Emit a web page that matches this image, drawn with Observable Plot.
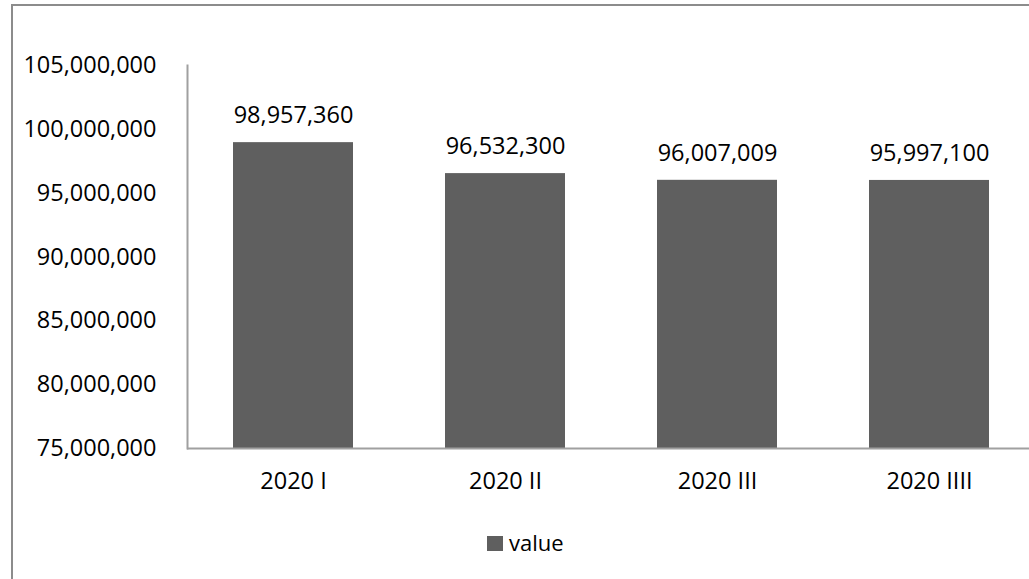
<!DOCTYPE html>
<html>
<head>
<meta charset="utf-8">
<script src="https://cdn.jsdelivr.net/npm/d3@7"></script>
<script src="https://cdn.jsdelivr.net/npm/@observablehq/plot@0.6"></script>
<style>
  html, body { margin: 0; padding: 0; background: #fff; overflow: hidden; }
  #wrap { position: relative; width: 1029px; height: 579px; overflow: hidden; font-family: "Open Sans", sans-serif; }
  #border { position: absolute; left: 11px; top: 4px; width: 1100px; height: 700px; border: 2px solid #8c8c8c; box-sizing: border-box; }
  #chart { position: absolute; left: 0; top: 0; }
  #legend { position: absolute; left: 487px; top: 527px; display: flex; align-items: center; font-size: 22px; color: #000; }
  #legend .sw { width: 16px; height: 15px; background: #5f5f5f; margin-right: 6px; margin-top: 3px; }
</style>
</head>
<body>
<div id="wrap">
  <div id="border"></div>
  <div id="chart"></div>
  <div id="legend"><span class="sw"></span><span>value</span></div>
</div>
<script>
const categories = ["2020 I", "2020 II", "2020 III", "2020 IIII"];
const values = [98957360, 96532300, 96007009, 95997100];
const yTicks = [75000000, 80000000, 85000000, 90000000, 95000000, 100000000, 105000000];
const seriesName = "value";

const data = categories.map((c, i) => ({category: c, value: values[i]}));
const fmt = d3.format(",");
const fs = 23.5;

const chart = Plot.plot({
  width: 1029,
  height: 579,
  marginLeft: 187,
  marginTop: 65,
  marginBottom: 131,
  marginRight: 0,
  style: {fontFamily: "Open Sans, sans-serif", fontSize: fs + "px", color: "#000", background: "transparent", overflow: "visible"},
  x: {domain: categories, range: [187, 1035], paddingInner: 0.434, paddingOuter: 0.217, label: null},
  y: {domain: [75000000, 105000000], label: null},
  marks: [
    Plot.barY(data, {x: "category", y1: 75000000, y2: "value", fill: "#5f5f5f"}),
    Plot.text(data, {x: "category", y: "value", text: d => fmt(d.value), dy: -27, fill: "#000", fontSize: fs}),
    Plot.axisY({ticks: yTicks, tickFormat: fmt, tickSize: 0, tickPadding: 31, fontSize: fs, label: null}),
    Plot.axisX({tickSize: 0, tickPadding: 24, fontSize: fs, label: null}),
    Plot.ruleY([75000000], {stroke: "#a0a0a0", strokeWidth: 2}),
    Plot.frame({anchor: "left", stroke: "#a0a0a0", strokeWidth: 2})
  ]
});
document.getElementById("chart").appendChild(chart);
</script>
</body>
</html>
